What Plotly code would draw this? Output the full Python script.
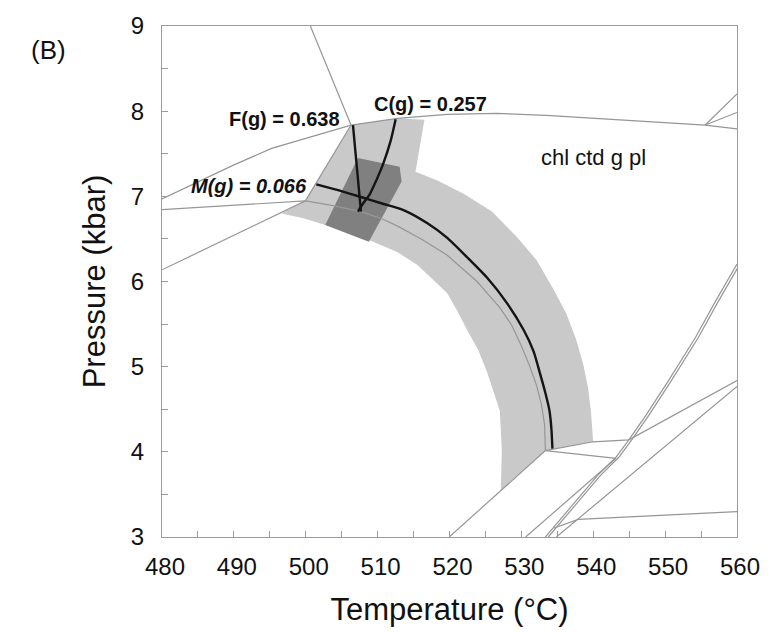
import plotly.graph_objects as go

# ---- phase-field shading (T in °C, P in kbar) ----
band_T = [506.30, 510.02, 512.79, 516.51, 515.27, 518.31, 522.03, 525.90, 529.35,
          532.11, 534.46, 536.25, 537.63, 538.60, 539.29, 539.70, 539.98,
          533.35, 527.14, 527.28, 527.00, 525.21, 523.97, 522.45, 521.07, 519.69,
          517.62, 515.55, 512.79, 509.06, 505.88, 502.71, 499.67, 496.63, 499.95]
band_P = [7.837, 7.882, 7.916, 7.900, 7.289, 7.186, 7.027, 6.821, 6.525,
          6.251, 5.909, 5.624, 5.316, 5.031, 4.745, 4.460, 4.118,
          4.015, 3.548, 4.027, 4.483, 4.939, 5.202, 5.430, 5.658, 5.863,
          6.034, 6.194, 6.342, 6.479, 6.582, 6.662, 6.742, 6.799, 6.947]

core_T = [507.26, 513.06, 513.34, 508.78, 502.71]
core_P = [7.449, 7.346, 7.175, 6.467, 6.662]

# ---- phase boundaries ----
boundaries = {
    "top":    ([506.30, 510.02, 512.79, 519.69, 526.59, 533.49, 540.39, 547.30, 555.58, 560.0],
               [7.837, 7.882, 7.916, 7.962, 7.973, 7.951, 7.916, 7.882, 7.837, 7.791]),
    "steep":  ([500.64, 506.30], [9.0, 7.837]),
    "left_a": ([480.0, 484.76, 490.01, 495.25, 500.36, 506.30],
               [6.970, 7.164, 7.369, 7.563, 7.688, 7.837]),
    "left_b": ([480.0, 499.95], [6.844, 6.947]),
    "left_c": ([480.0, 499.95], [6.137, 6.947]),
    "link":   ([499.95, 506.30], [6.947, 7.837]),
    "arc":    ([499.95, 503.81, 507.68, 510.44, 512.79, 516.24, 519.69, 523.83, 527.00,
                528.66, 530.04, 531.15, 532.11, 532.80, 533.22, 533.35],
               [6.947, 6.890, 6.821, 6.742, 6.650, 6.491, 6.308, 6.000, 5.692,
                5.487, 5.236, 5.008, 4.780, 4.552, 4.323, 4.015]),
    "tr_a":   ([555.58, 560.0], [7.837, 8.202]),
    "tr_b":   ([555.58, 560.0], [7.837, 7.985]),
    "low_a":  ([519.96, 533.35], [3.0, 4.015]),
    "low_u":  ([533.35, 539.98, 544.95, 560.0], [4.015, 4.118, 4.141, 4.837]),
    "low_w":  ([533.35, 543.16], [4.015, 3.924]),
    "low_b":  ([530.59, 543.16], [3.0, 3.924]),
    "low_d":  ([534.87, 560.0], [3.0, 4.768]),
    "low_e":  ([534.46, 537.91, 560.0], [3.103, 3.206, 3.297]),
}

# paired reaction curve on the right
pair_T = [533.35, 537.63, 540.67, 543.16, 544.95, 547.30, 550.47, 554.20, 556.96, 560.0]
pair_P = [3.0, 3.434, 3.730, 3.936, 4.141, 4.426, 4.837, 5.339, 5.761, 6.205]
pair_shift = 0.4

# ---- garnet isopleths ----
mg_T = [501.47, 504.50, 507.68, 510.72, 513.75, 516.93, 519.69, 522.45, 525.21,
        527.97, 530.32, 531.70, 532.53, 533.35, 533.91, 534.18, 534.32]
mg_P = [7.141, 7.072, 6.992, 6.913, 6.833, 6.684, 6.513, 6.285, 6.046,
        5.749, 5.430, 5.179, 4.939, 4.688, 4.483, 4.266, 4.038]
fg_T = [506.57, 507.13, 507.68]
fg_P = [7.837, 7.323, 6.821]
cg_T = [512.51, 511.82, 510.72, 509.75, 508.92, 507.95, 507.26]
cg_P = [7.905, 7.654, 7.369, 7.175, 7.027, 6.913, 6.821]

LIGHT = "rgb(201,201,201)"
DARK = "rgb(128,128,128)"
THIN = "rgb(150,150,150)"
THICK = "rgb(20,20,20)"
FRAME = "rgb(155,155,155)"
FONT = "Liberation Sans, Arial, sans-serif"

fig = go.Figure()
fig.add_trace(go.Scatter(x=band_T, y=band_P, fill="toself", fillcolor=LIGHT,
                         mode="lines", line=dict(width=0), hoverinfo="skip"))
fig.add_trace(go.Scatter(x=core_T, y=core_P, fill="toself", fillcolor=DARK,
                         mode="lines", line=dict(width=0), hoverinfo="skip"))

for name, (xs, ys) in boundaries.items():
    fig.add_trace(go.Scatter(x=xs, y=ys, mode="lines", name=name,
                             line=dict(color=THIN, width=1.2)))
fig.add_trace(go.Scatter(x=pair_T, y=pair_P, mode="lines",
                         line=dict(color=THIN, width=1.2)))
fig.add_trace(go.Scatter(x=[t + pair_shift for t in pair_T], y=pair_P, mode="lines",
                         line=dict(color=THIN, width=1.2)))

for xs, ys in [(mg_T, mg_P), (fg_T, fg_P), (cg_T, cg_P)]:
    fig.add_trace(go.Scatter(x=xs, y=ys, mode="lines",
                             line=dict(color=THICK, width=2.4, shape="spline", smoothing=0.6)))

label_font = dict(family=FONT, size=20, color="#111")
fig.add_annotation(x=505.0, y=7.905, text="<b>F(g) = 0.638</b>", showarrow=False,
                   xanchor="right", yanchor="middle", font=label_font)
fig.add_annotation(x=509.2, y=8.087, text="<b>C(g) = 0.257</b>", showarrow=False,
                   xanchor="left", yanchor="middle", font=label_font)
fig.add_annotation(x=500.4, y=7.118, text="<b><i>M(g) = 0.066</i></b>", showarrow=False,
                   xanchor="right", yanchor="middle", font=label_font)
fig.add_annotation(x=540.05, y=7.46, text="chl ctd g pl", showarrow=False,
                   xanchor="center", yanchor="middle",
                   font=dict(family=FONT, size=22, color="#111"))
fig.add_annotation(x=(28 - 162) / 580, y=(544 - 42) / 527, xref="paper", yref="paper",
                   text="(B)", showarrow=False, xanchor="left", yanchor="middle",
                   font=dict(family=FONT, size=26, color="#111"))

axis_common = dict(showline=True, linecolor=FRAME, linewidth=1, mirror=True,
                   showgrid=False, zeroline=False, ticks="inside", ticklen=6,
                   tickcolor=FRAME, tickwidth=1,
                   tickfont=dict(family=FONT, size=24, color="#111"))

fig.update_xaxes(range=[480, 560], dtick=10, tick0=480,
                 ticklabelstandoff=8, ticklabelshift=3,
                 minor=dict(dtick=5, ticks="inside", ticklen=6, tickcolor=FRAME),
                 title=dict(text="Temperature (°C)", font=dict(family=FONT, size=31, color="#111"),
                            standoff=19),
                 **axis_common)
fig.update_yaxes(range=[3, 9], dtick=1, tick0=3,
                 ticklabelstandoff=12,
                 minor=dict(dtick=0.5, ticks="inside", ticklen=6, tickcolor=FRAME),
                 title=dict(text="Pressure (kbar)", font=dict(family=FONT, size=31, color="#111"),
                            standoff=15),
                 **axis_common)

fig.update_layout(width=772, height=632, margin=dict(l=162, r=30, t=17, b=88),
                  plot_bgcolor="white", paper_bgcolor="white", showlegend=False)

fig.write_html("out.html")
